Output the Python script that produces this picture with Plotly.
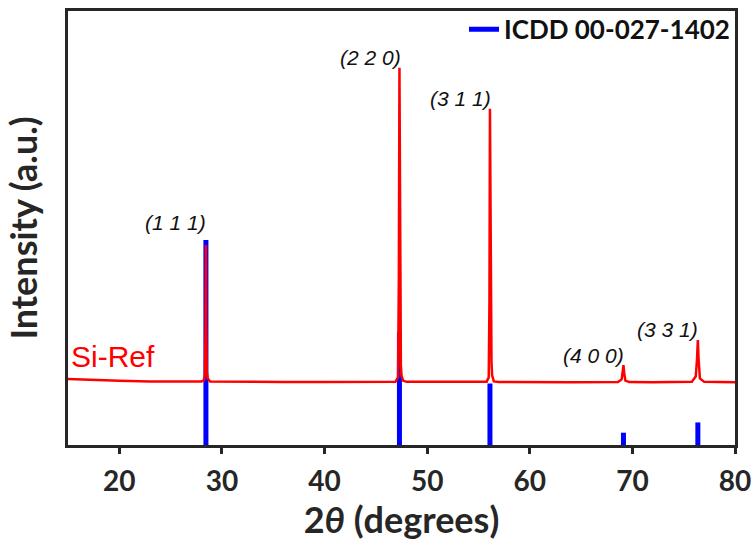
import plotly.graph_objects as go

# ICDD 00-027-1402 (Si) reference reflections
hkl_labels = ["(1 1 1)", "(2 2 0)", "(3 1 1)", "(4 0 0)", "(3 3 1)"]
ref_two_theta = [28.44, 47.30, 56.12, 69.13, 76.38]
ref_intensity = [100, 55, 30, 6, 11]

# Measured Si-Ref pattern (2theta in degrees, intensity in a.u.)
si_two_theta = [15.0, 17.0, 20.0, 23.0, 26.0, 28.0, 28.22, 28.34, 28.40, 28.44, 28.47, 28.52, 28.62, 28.85,
                32.0, 36.0, 40.0, 44.0, 46.9, 47.16, 47.24, 47.30, 47.35, 47.40, 47.44, 47.50, 47.65, 48.0,
                51.0, 54.0, 55.8, 56.00, 56.07, 56.12, 56.17, 56.22, 56.27, 56.33, 56.50, 57.0,
                60.0, 64.0, 68.6, 68.95, 69.06, 69.13, 69.20, 69.32, 69.7,
                72.0, 75.8, 76.18, 76.30, 76.38, 76.45, 76.58, 77.0, 80.0]
si_intensity = [32.2, 31.8, 31.3, 31.0, 30.9, 31.0, 31.4, 34.0, 55.0, 97.5, 60.0, 36.0, 32.4, 31.0,
                30.8, 30.7, 30.7, 30.7, 30.8, 33.0, 80.0, 184.0, 120.0, 45.0, 39.0, 34.0, 31.4, 30.8,
                30.7, 30.6, 30.8, 33.0, 70.0, 164.0, 110.0, 45.0, 40.5, 34.0, 31.0, 30.7,
                30.6, 30.6, 30.7, 32.0, 36.0, 39.0, 35.0, 31.4, 30.7,
                30.6, 30.8, 33.5, 42.0, 51.2, 42.0, 32.5, 30.8, 30.6]

# hkl annotation anchor points (right edge, vertical centre of text)
hkl_label_x = [28.66, 47.65, 56.43, 69.35, 76.57]
hkl_label_y = [108.3, 188.8, 168.8, 43.5, 56.1]

axis_color = "#262626"
bold_font = "Lato"

# Stick pattern built from the reference arrays
stick_x, stick_y = [], []
for x, h in zip(ref_two_theta, ref_intensity):
    stick_x += [x, x, None]
    stick_y += [0, h, None]

fig = go.Figure()
fig.add_trace(go.Scatter(
    x=stick_x, y=stick_y, mode="lines", name="ICDD 00-027-1402",
    line=dict(color="#0000ff", width=5), showlegend=True,
))
fig.add_trace(go.Scatter(
    x=si_two_theta, y=si_intensity, mode="lines", name="Si-Ref",
    line=dict(color="#ff0000", width=2.5), showlegend=False,
))

for lab, lx, ly in zip(hkl_labels, hkl_label_x, hkl_label_y):
    fig.add_annotation(
        x=lx, y=ly, text=f"<i>{lab}</i>", showarrow=False, xanchor="right", yanchor="middle",
        font=dict(family="Liberation Sans", size=21, color="#111111"),
    )

fig.add_annotation(
    x=15.1, y=34.0, text="Si-Ref", showarrow=False, xanchor="left", yanchor="bottom",
    font=dict(family="Liberation Sans", size=30, color="#ff0000"),
)

fig.update_layout(
    width=755, height=546,
    margin=dict(l=68, r=20, t=11, b=101, autoexpand=False),
    paper_bgcolor="white", plot_bgcolor="white",
    showlegend=True,
    legend=dict(
        x=1.0, y=0.958, xanchor="right", yanchor="middle", bgcolor="rgba(0,0,0,0)",
        font=dict(family=bold_font, size=26, color="#111111", weight="bold"),
    ),
    xaxis=dict(
        range=[15, 80], tickvals=[20, 30, 40, 50, 60, 70, 80],
        showgrid=False, zeroline=False, automargin=False,
        showline=True, linecolor=axis_color, linewidth=2.5, mirror=True,
        ticks="outside", ticklen=6, tickwidth=2.5, tickcolor=axis_color,
        tickfont=dict(family=bold_font, size=28, color=axis_color, weight="bold"),
        ticklabelstandoff=4,
        title=dict(text="2<i>θ</i> (degrees)", standoff=12,
                   font=dict(family=bold_font, size=36, color=axis_color, weight="bold")),
    ),
    yaxis=dict(
        range=[0, 211.7], showticklabels=False, ticks="",
        showgrid=False, zeroline=False, automargin=False,
        showline=True, linecolor=axis_color, linewidth=2.5, mirror=True,
        title=dict(text="Intensity (a.u.)", standoff=17,
                   font=dict(family=bold_font, size=36, color=axis_color, weight="bold")),
    ),
)

fig.write_html("out.html")
